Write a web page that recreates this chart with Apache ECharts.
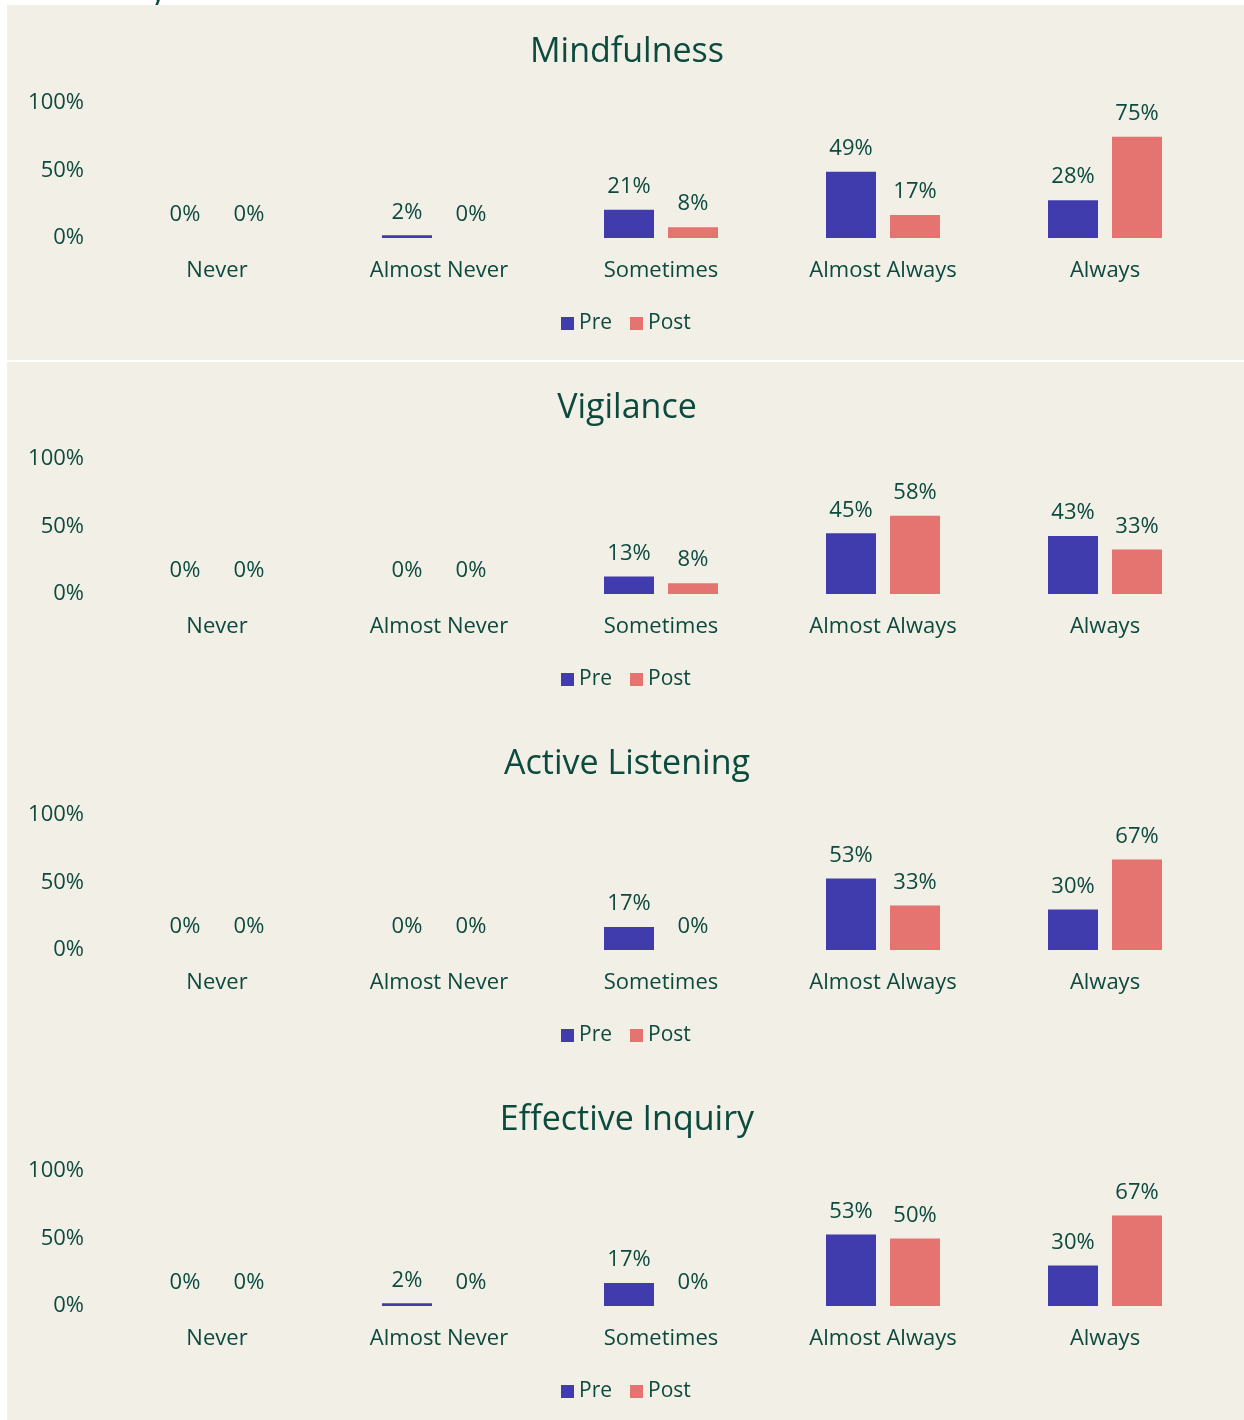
<!DOCTYPE html>
<html>
<head>
<meta charset="utf-8">
<script src="https://cdn.jsdelivr.net/npm/echarts@6/dist/echarts.min.js"></script>
<style>
  html, body { margin: 0; padding: 0; background: #ffffff; }
  #chart { width: 1244px; height: 1420px; }
</style>
</head>
<body>
<div id="chart"></div>
<script>
// data
const categories = ['Never', 'Almost Never', 'Sometimes', 'Almost Always', 'Always']
const panelTitles = ['Mindfulness', 'Vigilance', 'Active Listening', 'Effective Inquiry']
const yTicks = [0, 50, 100]

const mindfulnessPre = [0, 2, 21, 49, 28]
const mindfulnessPost = [0, 0, 8, 17, 75]
const vigilancePre = [0, 0, 13, 45, 43]
const vigilancePost = [0, 0, 8, 58, 33]
const listeningPre = [0, 0, 17, 53, 30]
const listeningPost = [0, 0, 0, 33, 67]
const inquiryPre = [0, 2, 17, 53, 30]
const inquiryPost = [0, 0, 0, 50, 67]

const preSets = [mindfulnessPre, vigilancePre, listeningPre, inquiryPre]
const postSets = [mindfulnessPost, vigilancePost, listeningPost, inquiryPost]

const TEXT = '#0c4a3e'
const PRE = '#403cae'
const POST = '#e5736f'
const BG = '#f2efe7'
const FONT = 'Open Sans'
const STEP = 356

const chart = echarts.init(document.getElementById('chart'))

const grids = [], xAxes = [], yAxes = [], legends = [], series = []
const graphics = [
  { type: 'rect', shape: { x: 7, y: 5, width: 1237, height: 1415 }, style: { fill: BG }, z: -10 },
  { type: 'rect', shape: { x: 7, y: 360, width: 1237, height: 2 }, style: { fill: '#ffffff' }, z: -9 },
  { type: 'text', x: 150, y: -24, style: { text: 'y', fill: TEXT, font: '32px "Open Sans"' }, z: -11 }
]

panelTitles.forEach((name, i) => {
  const off = i * STEP
  // titles centred over the beige panel
  graphics.push({
    type: 'text',
    x: 627,
    y: 52 + off,
    style: {
      text: name, fill: TEXT, font: '34px "Open Sans"',
      textAlign: 'center', textVerticalAlign: 'middle'
    }
  })
  grids.push({ left: 106, width: 1110, top: 103 + off, height: 135 })
  xAxes.push({
    type: 'category',
    gridIndex: i,
    data: categories,
    axisLine: { show: false },
    axisTick: { show: false },
    axisLabel: { color: TEXT, fontFamily: FONT, fontSize: 22, margin: 22 }
  })
  yAxes.push({
    type: 'value',
    gridIndex: i,
    min: yTicks[0],
    max: yTicks[yTicks.length - 1],
    interval: 50,
    splitLine: { show: false },
    axisLine: { show: false },
    axisTick: { show: false },
    axisLabel: {
      color: TEXT, fontFamily: FONT, fontSize: 22, margin: 22,
      padding: [4, 0, 0, 0], formatter: '{value}%'
    }
  })
  legends.push({
    top: 308 + off,
    left: 556,
    icon: 'rect',
    itemWidth: 13,
    itemHeight: 13,
    itemGap: 18,
    textStyle: { color: TEXT, fontFamily: FONT, fontSize: 21 },
    data: ['Pre', 'Post']
  })
  const label = {
    show: true,
    position: 'top',
    distance: 12,
    color: TEXT,
    fontFamily: FONT,
    fontSize: 22,
    formatter: '{c}%'
  }
  series.push({
    name: 'Pre', type: 'bar', xAxisIndex: i, yAxisIndex: i,
    data: preSets[i], barWidth: 50, barGap: '28%',
    itemStyle: { color: PRE }, label
  })
  series.push({
    name: 'Post', type: 'bar', xAxisIndex: i, yAxisIndex: i,
    data: postSets[i], barWidth: 50, barGap: '28%',
    itemStyle: { color: POST }, label
  })
})

chart.setOption({
  backgroundColor: '#ffffff',
  animation: false,
  graphic: graphics,
  grid: grids,
  xAxis: xAxes,
  yAxis: yAxes,
  legend: legends,
  series: series
})

window.addEventListener('resize', () => chart.resize())
</script>
</body>
</html>
